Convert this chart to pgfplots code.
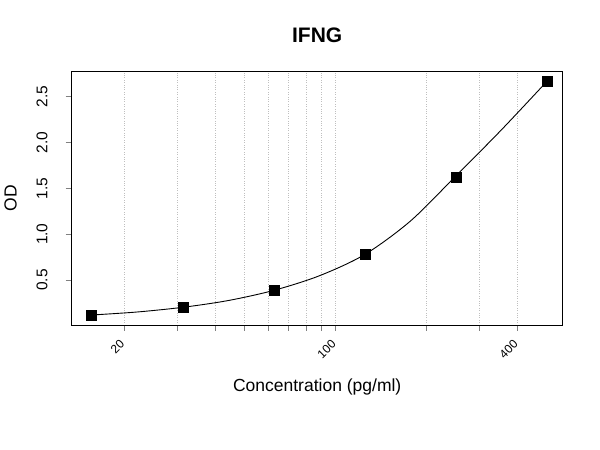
\documentclass[border=0pt]{standalone}
\usepackage{fontspec}
\setmainfont{Liberation Sans}
\usepackage{pgfplots}
\pgfplotsset{compat=1.18}

\begin{document}
\begin{tikzpicture}
\path[use as bounding box] (-71.7pt,-125pt) rectangle (528.3pt,325pt);
\begin{axis}[
    scale only axis,
    width=491pt, height=253.3pt,
    xmode=log,
    xmin=13.42, xmax=563.6,
    ymin=0.009, ymax=2.773,
    xtick={20,100,400},
    xticklabels={20,100,400},
    minor xtick={30,40,50,60,70,80,90,200,300},
    ytick={0.5,1,1.5,2,2.5},
    yticklabels={0.5,1.0,1.5,2.0,2.5},
    xmajorgrids, xminorgrids,
    grid style={lightgray, dotted, line width=0.8pt},
    tick align=outside,
    major tick length=6pt, minor tick length=6pt,
    tick style={gray, line width=0.8pt},
    xtick pos=bottom, ytick pos=left,
    axis line style={black, line width=0.8pt},
    xticklabel style={font=\fontsize{12}{14}\selectfont, xshift=-5pt, rotate=45, anchor=north east, inner sep=0pt},
    xticklabel shift=8pt,
    yticklabel style={font=\fontsize{15.5}{18}\selectfont, rotate=90, anchor=south, inner sep=0pt},
    yticklabel shift=18pt,
    title={IFNG},
    title style={font=\fontsize{21}{24}\selectfont\bfseries, at={(0.5,1)}, anchor=center, yshift=30pt},
    xlabel={Concentration (pg/ml)},
    xlabel style={font=\fontsize{17.5}{20}\selectfont, at={(0.5,0)}, anchor=center, yshift=-62pt},
    ylabel={OD},
    ylabel style={font=\fontsize{17.5}{20}\selectfont, at={(0,0.5)}, anchor=center, yshift=61pt},
]

% fitted curve
\addplot[black, line width=0.9pt, smooth, no marks] coordinates {
    (15.625,0.118) (22.10,0.151) (31.25,0.202) (44.19,0.276)
    (62.5,0.387) (88.39,0.546) (125,0.779) (176.8,1.143)
    (250,1.636) (353.6,2.139) (500,2.668)
};

% standards
\addplot[only marks, mark=square*, mark size=5pt, black] coordinates {
    (15.625,0.115) (31.25,0.202) (62.5,0.384) (125,0.777) (250,1.625) (500,2.671)
};

\end{axis}
\end{tikzpicture}
\end{document}
